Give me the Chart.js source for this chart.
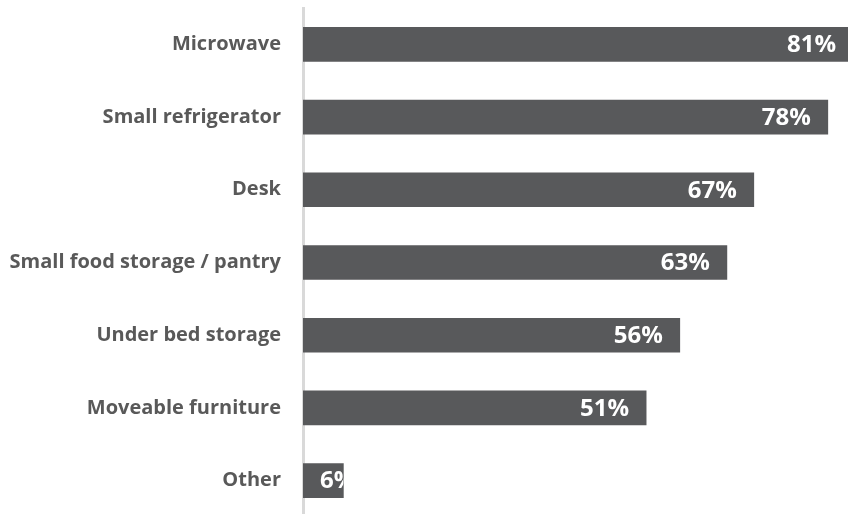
<!DOCTYPE html>
<html>
<head>
<meta charset="utf-8">
<script src="https://cdn.jsdelivr.net/npm/chart.js@4/dist/chart.umd.min.js"></script>
<style>
  html, body { margin:0; padding:0; background:#fff; overflow:hidden; }
  #wrap { position:relative; width:848px; height:517px; }
</style>
</head>
<body>
<div id="wrap"><canvas id="chart"></canvas></div>
<script>
const categories = ['Microwave','Small refrigerator','Desk','Small food storage / pantry','Under bed storage','Moveable furniture','Other']
const values = [81, 78, 67, 63, 56, 51, 6]
const valueLabels = ['81%','78%','67%','63%','56%','51%','6%']

const FONT = '"Open Sans", Lato, sans-serif'

// white value labels at the inner end of each bar, clipped to the bar
const barLabels = {
  id: 'barLabels',
  afterDatasetsDraw(chart){
    const ctx = chart.ctx
    const area = chart.chartArea
    const meta = chart.getDatasetMeta(0)
    ctx.save()
    ctx.font = 'bold 24px ' + FONT
    ctx.fillStyle = '#ffffff'
    ctx.textBaseline = 'middle'
    ctx.textAlign = 'left'
    meta.data.forEach((bar, i) => {
      const txt = valueLabels[i]
      const w = ctx.measureText(txt).width
      const end = Math.min(bar.x, area.right)
      // bars running off the right edge keep their label just inside it
      const right = bar.x >= area.right - 2 ? area.right - 12 : bar.x - 17
      const left = Math.max(right - w, bar.base + 17)
      ctx.save()
      ctx.beginPath()
      ctx.rect(bar.base, bar.y - bar.height/2, end - bar.base, bar.height)
      ctx.clip()
      ctx.fillText(txt, left, bar.y + 1)
      ctx.restore()
    })
    ctx.restore()
  }
}

new Chart(document.getElementById('chart'), {
  type: 'bar',
  data: {
    labels: categories,
    datasets: [{
      data: values,
      backgroundColor: '#58595b',
      borderWidth: 0,
      barThickness: 34
    }]
  },
  options: {
    indexAxis: 'y',
    responsive: true,
    maintainAspectRatio: false,
    animation: false,
    layout: { padding: { top: 8, right: 0, bottom: 0, left: 0 } },
    plugins: { legend: { display: false }, tooltip: { enabled: false } },
    scales: {
      x: { display: false, min: 0, max: 81 },
      y: {
        grid: { display: false, drawTicks: false },
        border: { display: true, color: '#d9d9d9', width: 3 },
        ticks: {
          color: '#595959',
          padding: 22,
          font: { family: FONT, size: 20, weight: 'bold' }
        },
        afterFit(scale){
          scale.width = 303
          scale.paddingTop = 0
          scale.paddingBottom = 0
        }
      }
    }
  },
  plugins: [barLabels]
})
</script>
</body>
</html>
